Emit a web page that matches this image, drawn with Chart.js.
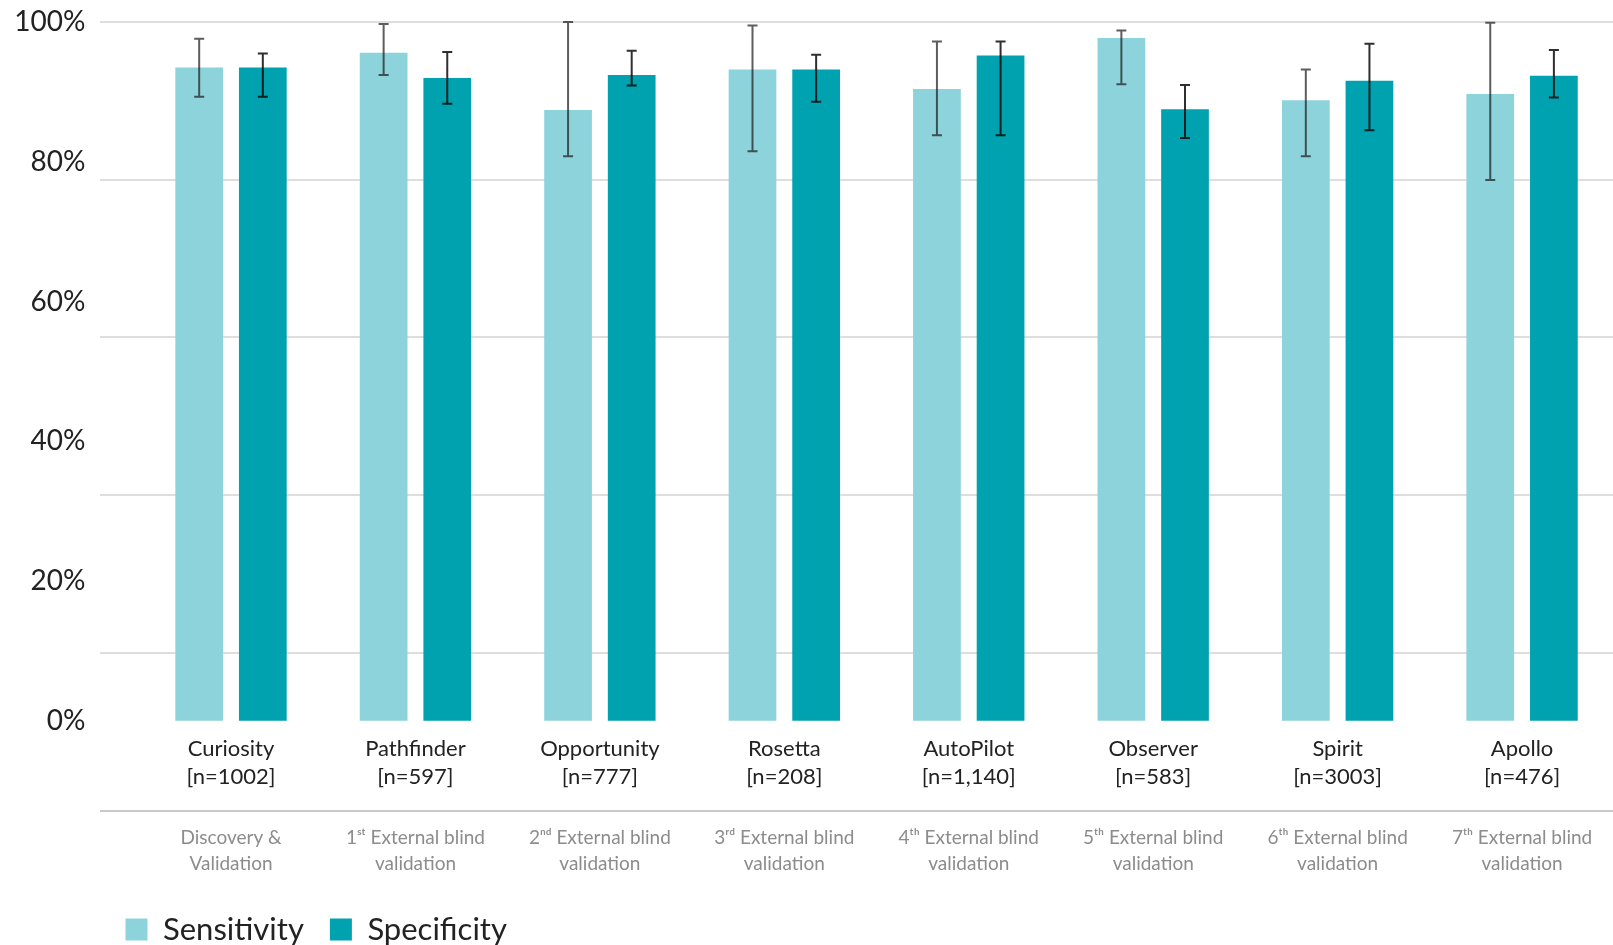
<!DOCTYPE html>
<html>
<head>
<meta charset="utf-8">
<script src="https://cdn.jsdelivr.net/npm/chart.js@4.4.1/dist/chart.umd.min.js"></script>
<style>
    html, body { margin: 0; padding: 0; background: #fff; overflow: hidden; }
    #wrap { position: relative; width: 1613px; height: 955px; }
</style>
</head>
<body>
<div id="wrap"><canvas id="accuracyChart"></canvas></div>
<script>
// values
const missions = ['Curiosity', 'Pathfinder', 'Opportunity', 'Rosetta', 'AutoPilot', 'Observer', 'Spirit', 'Apollo'];
const sampleSizes = ['[n=1002]', '[n=597]', '[n=777]', '[n=208]', '[n=1,140]', '[n=583]', '[n=3003]', '[n=476]'];
const phases = [
    ['Discovery &', 'Validation'],
    ['1ˢᵗ External blind', 'validation'],
    ['2ⁿᵈ External blind', 'validation'],
    ['3ʳᵈ External blind', 'validation'],
    ['4ᵗʰ External blind', 'validation'],
    ['5ᵗʰ External blind', 'validation'],
    ['6ᵗʰ External blind', 'validation'],
    ['7ᵗʰ External blind', 'validation']
];

const sensitivity = [93.5, 95.6, 87.4, 93.2, 90.4, 97.7, 88.8, 89.7];
const sensitivityLow = [89.3, 92.4, 80.8, 81.5, 83.8, 91.1, 80.8, 77.4];
const sensitivityHigh = [97.6, 99.7, 100, 99.5, 97.2, 98.8, 93.2, 99.9];

const specificity = [93.5, 92.0, 92.4, 93.2, 95.2, 87.5, 91.6, 92.3];
const specificityLow = [89.3, 88.3, 90.9, 88.6, 83.8, 83.4, 84.5, 89.2];
const specificityHigh = [95.5, 95.7, 95.9, 95.3, 97.2, 91.0, 96.9, 96.0];

const yTicks = [0, 20, 40, 60, 80, 100];

window.errorBarPlugin = {
    id: 'errorBars',
    afterDatasetsDraw(chart) {
        const ctx = chart.ctx;
        const yScale = chart.scales.y;
        chart.data.datasets.forEach((ds, di) => {
            const meta = chart.getDatasetMeta(di);
            ctx.save();
            ctx.strokeStyle = ds.errColor;
            ctx.lineWidth = 2;
            meta.data.forEach((bar, i) => {
                const top = yScale.getPixelForValue(ds.errHigh[i]);
                const bottom = yScale.getPixelForValue(ds.errLow[i]);
                ctx.beginPath();
                ctx.moveTo(bar.x, top);
                ctx.lineTo(bar.x, bottom);
                ctx.moveTo(bar.x - 5, top);
                ctx.lineTo(bar.x + 5, top);
                ctx.moveTo(bar.x - 5, bottom);
                ctx.lineTo(bar.x + 5, bottom);
                ctx.stroke();
            });
            ctx.restore();
        });
    }
};

function missionTicks(scale) {
    scale.ticks = missions.map((m, i) => ({value: i}));
}

const ctx = document.getElementById('accuracyChart').getContext('2d');
window.chart = new Chart(ctx, {
    type: 'bar',
    data: {
        datasets: [{
            label: 'Sensitivity',
            data: sensitivity.map((v, i) => ({x: i, y: v})),
            errLow: sensitivityLow,
            errHigh: sensitivityHigh,
            errColor: 'rgba(30,30,30,0.72)',
            backgroundColor: '#8dd3db',
            borderWidth: 0,
            xAxisID: 'x',
            yAxisID: 'y'
        }, {
            label: 'Specificity',
            data: specificity.map((v, i) => ({x: i, y: v})),
            errLow: specificityLow,
            errHigh: specificityHigh,
            errColor: 'rgba(10,10,10,0.85)',
            backgroundColor: '#00a2b0',
            borderWidth: 0,
            xAxisID: 'x',
            yAxisID: 'y'
        }]
    },
    options: {
        responsive: true,
        maintainAspectRatio: false,
        devicePixelRatio: 1,
        animation: false,
        categoryPercentage: 0.69,
        barPercentage: 0.75,
        layout: { padding: { top: 22, right: 0, left: 0, bottom: 0 } },
        scales: {
            x: {
                type: 'linear',
                position: { y: 0 },
                min: -0.713,
                max: 7.493,
                offset: false,
                afterBuildTicks: missionTicks,
                grid: { display: false, drawTicks: false },
                border: { display: false },
                ticks: {
                    autoSkip: false,
                    maxRotation: 0,
                    padding: 14,
                    color: '#222',
                    font: { family: 'Lato', size: 22, lineHeight: 1.27 },
                    callback: (value) => [missions[value], sampleSizes[value]]
                }
            },
            x2: {
                type: 'linear',
                position: 'bottom',
                min: -0.713,
                max: 7.493,
                offset: false,
                afterBuildTicks: missionTicks,
                afterFit: (scale) => { scale.height = 77.4; },
                grid: { display: false, drawTicks: false },
                border: { display: false },
                ticks: {
                    autoSkip: false,
                    maxRotation: 0,
                    padding: 14,
                    color: '#8c8c8c',
                    font: { family: 'Lato', size: 19, lineHeight: 1.37 },
                    callback: (value) => phases[value]
                }
            },
            y: {
                position: 'left',
                min: -12.86,
                max: 100,
                afterBuildTicks: (scale) => { scale.ticks = yTicks.map(v => ({value: v})); },
                afterFit: (scale) => {
                    scale.width = 99.5;
                    scale.paddingTop = 0;
                    scale.paddingBottom = 0;
                },
                grid: { display: false, drawTicks: false },
                border: { display: false },
                ticks: {
                    padding: 14,
                    color: '#222',
                    font: { family: 'Lato', size: 28 },
                    callback: (value) => value + '%'
                }
            },
            y2: {
                position: 'left',
                min: 0,
                max: 100,
                afterFit: (scale) => {
                    scale.width = 0;
                    scale.paddingTop = 0;
                    scale.paddingBottom = 0;
                },
                ticks: { display: false, stepSize: 20 },
                border: { display: false },
                grid: {
                    drawTicks: false,
                    lineWidth: 2,
                    color: (c) => c.tick && c.tick.value === 0 ? '#c9c9c9' : '#dedede'
                }
            }
        },
        plugins: {
            legend: {
                display: true,
                position: 'bottom',
                align: 'start',
                fullSize: false,
                labels: {
                    boxWidth: 22,
                    boxHeight: 22,
                    padding: 26,
                    color: '#222',
                    font: { family: 'Lato', size: 31 }
                }
            },
            tooltip: { enabled: false }
        }
    },
    plugins: [window.errorBarPlugin]
});
</script>
</body>
</html>
